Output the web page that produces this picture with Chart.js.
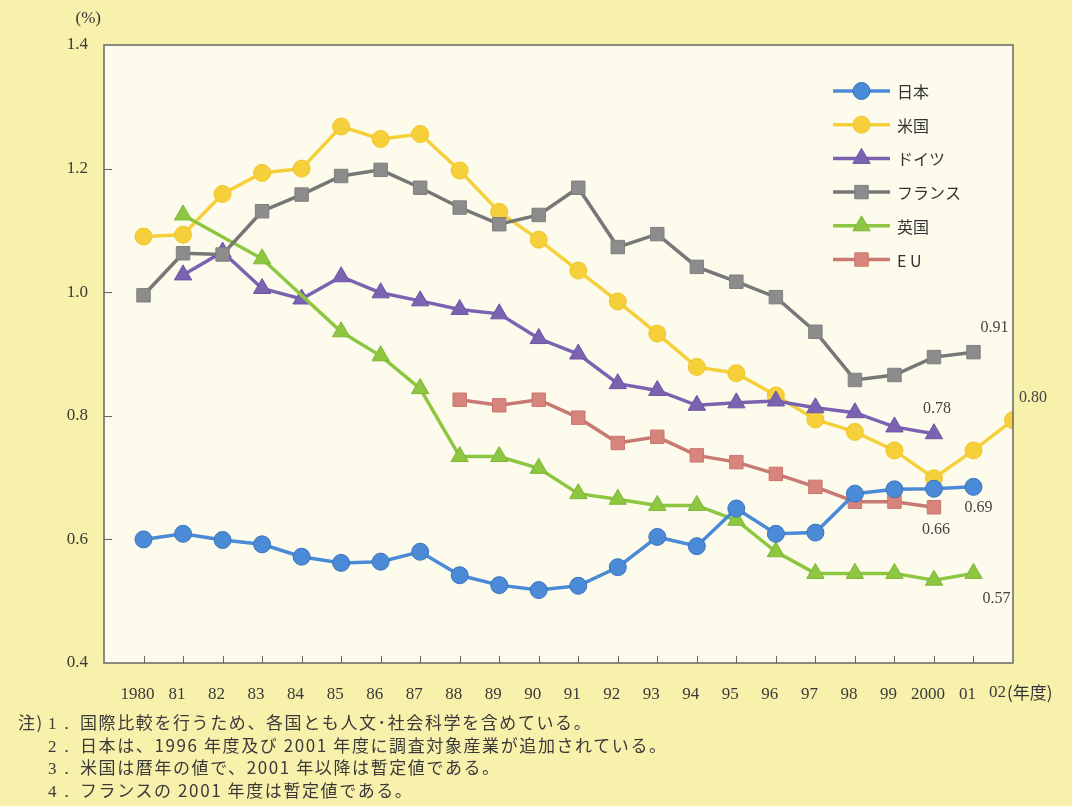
<!DOCTYPE html>
<html lang="ja">
<head>
<meta charset="utf-8">
<script src="https://cdn.jsdelivr.net/npm/chart.js@4/dist/chart.umd.min.js"></script>
<style>
  html, body { margin: 0; padding: 0; }
  body {
    width: 1072px; height: 806px; overflow: hidden; position: relative;
    background: #f8f1ac;
  }
  #wrap { position: absolute; left: 0; top: 0; width: 1072px; height: 710px; }
  #notes {
    position: absolute; left: 18px; top: 711px;
    font-family: "Noto Sans CJK JP", sans-serif; font-size: 17px; color: #3a3a3a;
    letter-spacing: 1.6px;
  }
  #notes .row { white-space: nowrap; height: 22.6px; line-height: 22.6px; }
  #notes .head { display: inline-block; width: 30px; }
  #notes .num { display: inline-block; width: 32px; font-family: "Liberation Serif", serif; }
</style>
</head>
<body>
<div id="wrap"><canvas id="chart"></canvas></div>
<div id="notes">
  <div class="row"><span class="head">注)</span><span class="num">1．</span>国際比較を行うため、各国とも人文･社会科学を含めている。</div>
  <div class="row"><span class="head"></span><span class="num">2．</span>日本は、1996 年度及び 2001 年度に調査対象産業が追加されている。</div>
  <div class="row"><span class="head"></span><span class="num">3．</span>米国は暦年の値で、2001 年以降は暫定値である。</div>
  <div class="row"><span class="head"></span><span class="num">4．</span>フランスの 2001 年度は暫定値である。</div>
</div>
<script>
// fiscal years on the x axis
var years = [1980, 1981, 1982, 1983, 1984, 1985, 1986, 1987, 1988, 1989, 1990, 1991,
	1992, 1993, 1994, 1995, 1996, 1997, 1998, 1999, 2000, 2001, 2002];
var year_labels = ["1980", "81", "82", "83", "84", "85", "86", "87", "88", "89", "90", "91",
	"92", "93", "94", "95", "96", "97", "98", "99", "2000", "01", "02"];

// values in % (null = no value)
var japan = [0.600, 0.609, 0.599, 0.592, 0.572, 0.562, 0.564, 0.580, 0.542, 0.526, 0.518, 0.525,
	0.555, 0.604, 0.589, 0.650, 0.609, 0.611, 0.674, 0.681, 0.682, 0.685, null];
var usa = [1.090, 1.093, 1.159, 1.193, 1.200, 1.268, 1.248, 1.256, 1.197, 1.130, 1.085, 1.035,
	0.985, 0.933, 0.879, 0.869, 0.833, 0.794, 0.774, 0.744, 0.699, 0.744, 0.793];
var germany = [null, 1.028, 1.065, 1.006, 0.989, 1.025, 0.999, 0.986, 0.972, 0.965, 0.925, 0.900,
	0.852, 0.841, 0.817, 0.821, 0.824, 0.813, 0.805, 0.782, 0.771, null, null];
var france = [0.995, 1.063, 1.061, 1.131, 1.158, 1.188, 1.198, 1.169, 1.137, 1.110, 1.125, 1.169,
	1.073, 1.094, 1.041, 1.017, 0.992, 0.936, 0.858, 0.866, 0.895, 0.903, null];
var uk = [null, 1.125, null, 1.054, null, 0.936, 0.897, 0.844, 0.734, 0.734, 0.715, 0.674,
	0.665, 0.655, 0.655, 0.631, 0.580, 0.545, 0.545, 0.545, 0.534, 0.545, null];
var eu = [null, null, null, null, null, null, null, null, 0.826, 0.817, 0.826, 0.797,
	0.756, 0.766, 0.736, 0.725, 0.706, 0.685, 0.661, 0.661, 0.652, null, null];

var series_names = ["日本", "米国", "ドイツ", "フランス", "英国", "EU"];
var y_ticks = [0.4, 0.6, 0.8, 1.0, 1.2, 1.4];

// value notes printed next to the last points: [series, year index, text]
var end_notes = [
	[0, 21, "0.69"], [1, 22, "0.80"], [2, 20, "0.78"],
	[3, 21, "0.91"], [4, 21, "0.57"], [5, 20, "0.66"]
];

function points(values) {
	return years.map((yr, i) => ({ x: yr, y: values[i] }));
}

var serif = "'Liberation Serif', 'DejaVu Serif', serif";
var jp = "'Noto Sans CJK JP', sans-serif";

function line_set(label, values, color, edge, style, radius, order) {
	return {
		label: label,
		data: points(values),
		borderColor: color,
		backgroundColor: color,
		pointBackgroundColor: color,
		pointBorderColor: edge,
		pointBorderWidth: 1,
		pointStyle: style,
		pointRadius: radius,
		borderWidth: 3.5,
		spanGaps: true,
		order: order
	};
}

var datasets = [
	line_set(series_names[0], japan, "#4a8ad6", "#3a74bd", "circle", 8.5, 0),
	line_set(series_names[1], usa, "#f6d03a", "#f0c52c", "circle", 8.5, 5),
	line_set(series_names[2], germany, "#7b63b2", "#6c55a3", "triangle", 10, 4),
	line_set(series_names[3], france, "#8c8c8c", "#7f7f7f", "rect", 9.5, 2),
	line_set(series_names[4], uk, "#8dc641", "#7fb637", "triangle", 10, 3),
	line_set(series_names[5], eu, "#d7857c", "#c9766e", "rect", 9.5, 1)
];
// darker dashes on the square-marker lines
datasets[3].borderColor = "#777777";
datasets[5].borderColor = "#c87971";

var decor = {
	id: "decor",
	beforeDraw(chart) {
		var a = chart.chartArea;
		var ctx = chart.ctx;
		ctx.save();
		ctx.fillStyle = "#fdfbec";
		ctx.fillRect(a.left, a.top, a.right - a.left, a.bottom - a.top);
		ctx.restore();
	},
	afterDraw(chart) {
		var a = chart.chartArea;
		var ctx = chart.ctx;
		var xs = chart.scales.x;
		var ys = chart.scales.y;
		ctx.save();

		// frame
		ctx.strokeStyle = "#666";
		ctx.lineWidth = 1.5;
		ctx.strokeRect(a.left, a.top, a.right - a.left, a.bottom - a.top);

		// inward tick marks
		ctx.lineWidth = 1;
		ctx.beginPath();
		years.slice(0, -1).forEach(yr => {
			var px = Math.round(xs.getPixelForValue(yr)) + 0.5;
			ctx.moveTo(px, a.bottom);
			ctx.lineTo(px, a.bottom - 7);
		});
		y_ticks.slice(1, -1).forEach(v => {
			var py = Math.round(ys.getPixelForValue(v)) + 0.5;
			ctx.moveTo(a.left, py);
			ctx.lineTo(a.left + 8, py);
		});
		ctx.stroke();

		// unit labels
		ctx.fillStyle = "#333";
		ctx.font = "17px " + serif;
		ctx.textBaseline = "middle";
		ctx.textAlign = "right";
		ctx.fillText("(%)", a.left - 3, 19);
		ctx.textAlign = "left";
		ctx.font = "17px " + jp;
		ctx.fillText("(年度)", xs.getPixelForValue(2002) - 6, xs.top + 30);

		// value notes
		var offsets = [[5, 21], [20, -22], [3, -25], [21, -24], [23, 25], [2, 23]];
		ctx.font = "16px " + serif;
		ctx.textAlign = "center";
		ctx.fillStyle = "#444";
		end_notes.forEach((n, k) => {
			var pt = chart.getDatasetMeta(n[0]).data[n[1]];
			ctx.fillText(n[2], pt.x + offsets[k][0], pt.y + offsets[k][1]);
		});

		// legend
		var lx = a.left + 729, ly = a.top + 46, step = 33.7;
		datasets.forEach((ds, i) => {
			var y = ly + i * step;
			ctx.strokeStyle = ds.borderColor;
			ctx.lineWidth = 3.5;
			ctx.beginPath();
			ctx.moveTo(lx, y);
			ctx.lineTo(lx + 57, y);
			ctx.stroke();
			ctx.fillStyle = ds.pointBackgroundColor;
			ctx.strokeStyle = ds.pointBorderColor;
			ctx.lineWidth = 1;
			Chart.helpers.drawPoint(ctx, {
				pointStyle: ds.pointStyle, radius: ds.pointRadius, borderWidth: 1, rotation: 0
			}, lx + 28.5, y);
			ctx.fillStyle = "#333";
			ctx.font = "16px " + jp;
			ctx.textAlign = "left";
			var name = ds.label === "EU" ? "E U" : ds.label;
			ctx.fillText(name, lx + 64, y + 1);
		});
		ctx.restore();
	}
};

var chart = new Chart(document.getElementById("chart"), {
	type: "line",
	data: { datasets: datasets },
	options: {
		responsive: true,
		maintainAspectRatio: false,
		animation: false,
		layout: { padding: { top: 45, right: 59, left: 0, bottom: 0 } },
		plugins: { legend: { display: false }, tooltip: { enabled: false } },
		scales: {
			x: {
				type: "linear",
				min: 1979,
				max: 2002,
				afterBuildTicks: scale => { scale.ticks = years.map(v => ({ value: v })); },
				afterFit: scale => { scale.height = 47; },
				grid: { display: false, drawTicks: false },
				border: { display: false },
				ticks: {
					autoSkip: false,
					maxRotation: 0,
					padding: 21,
					labelOffset: -6,
					color: "#3a3a3a",
					font: { family: serif, size: 17 },
					callback: (v, i) => i === years.length - 1 ? "" : year_labels[i]
				}
			},
			y: {
				min: 0.4,
				max: 1.4,
				afterBuildTicks: scale => { scale.ticks = y_ticks.map(v => ({ value: v })); },
				afterFit: scale => { scale.width = 104; },
				grid: { display: false, drawTicks: false },
				border: { display: false },
				ticks: {
					padding: 16,
					color: "#3a3a3a",
					font: { family: serif, size: 17 },
					callback: v => v.toFixed(1)
				}
			}
		}
	},
	plugins: [decor]
});

// last year label sits left of its point, followed by the unit
var last_label = {
	id: "lastLabel",
	afterDraw(c) {
		var xs = c.scales.x;
		var ctx = c.ctx;
		ctx.save();
		ctx.fillStyle = "#3a3a3a";
		ctx.font = "17px " + serif;
		ctx.textAlign = "right";
		ctx.textBaseline = "middle";
		ctx.fillText(year_labels[year_labels.length - 1], xs.getPixelForValue(2002) - 7, xs.top + 30);
		ctx.restore();
	}
};
Chart.register(last_label);
chart.update();
</script>
</body>
</html>
